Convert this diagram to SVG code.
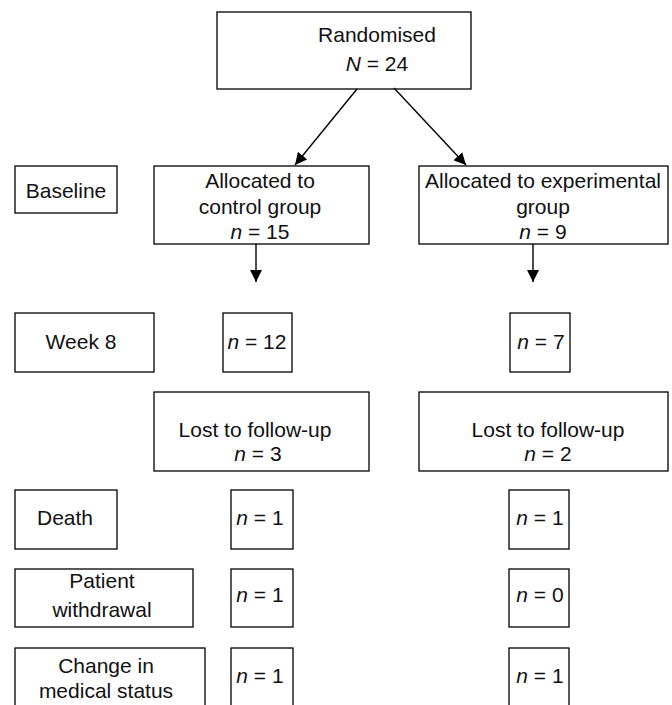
<svg xmlns="http://www.w3.org/2000/svg" width="672" height="705" viewBox="0 0 672 705">
<style>
rect{fill:#fff;stroke:#000;stroke-width:1.3}
text{font-family:"Liberation Sans",Arial,sans-serif;font-size:21px;fill:#111;text-anchor:middle}
.i{font-style:italic}
.c line{stroke:#000;stroke-width:1.4}
</style>
<defs>
<marker id="ah" markerUnits="userSpaceOnUse" markerWidth="12" markerHeight="12" refX="12" refY="6" orient="auto" viewBox="0 0 12 12">
<path d="M0,0 L12,6 L0,12 z" fill="#000"/>
</marker>
</defs>
<rect x="0" y="0" width="672" height="705" style="stroke:none"/>
<g id="randomised"><rect x="217" y="12" width="254" height="77"/><text x="377" y="42">Randomised</text><text x="377" y="71"><tspan class="i">N</tspan> = 24</text></g>
<g id="baseline"><rect x="15" y="166" width="102" height="47"/><text x="66" y="198">Baseline</text></g>
<g id="control"><rect x="154" y="166" width="215" height="78"/><text x="260" y="188">Allocated to</text><text x="260" y="214">control group</text><text x="260" y="239"><tspan class="i">n</tspan> = 15</text></g>
<g id="experimental"><rect x="419" y="166" width="249" height="78"/><text x="543" y="188" textLength="236" lengthAdjust="spacingAndGlyphs">Allocated to experimental</text><text x="543" y="214">group</text><text x="543" y="239"><tspan class="i">n</tspan> = 9</text></g>
<g id="week8"><rect x="15" y="313" width="139" height="59"/><text x="81" y="349">Week 8</text></g>
<g id="week8-control"><rect x="223" y="313" width="69" height="59"/><text x="257" y="349"><tspan class="i">n</tspan> = 12</text></g>
<g id="week8-exp"><rect x="510" y="313" width="60" height="59"/><text x="541" y="349"><tspan class="i">n</tspan> = 7</text></g>
<g id="lost-control"><rect x="154" y="392" width="215" height="79"/><text x="255" y="437">Lost to follow-up</text><text x="258" y="461"><tspan class="i">n</tspan> = 3</text></g>
<g id="lost-exp"><rect x="419" y="392" width="249" height="79"/><text x="548" y="437">Lost to follow-up</text><text x="548" y="461"><tspan class="i">n</tspan> = 2</text></g>
<g id="death"><rect x="15" y="490" width="102" height="59"/><text x="65" y="525">Death</text></g>
<g id="death-control"><rect x="231" y="490" width="62" height="59"/><text x="260" y="525"><tspan class="i">n</tspan> = 1</text></g>
<g id="death-exp"><rect x="509" y="490" width="60" height="59"/><text x="540" y="525"><tspan class="i">n</tspan> = 1</text></g>
<g id="withdrawal"><rect x="15" y="569" width="178" height="58"/><text x="102" y="588">Patient</text><text x="102" y="617">withdrawal</text></g>
<g id="withdrawal-control"><rect x="231" y="569" width="62" height="58"/><text x="260" y="602"><tspan class="i">n</tspan> = 1</text></g>
<g id="withdrawal-exp"><rect x="509" y="569" width="60" height="58"/><text x="540" y="602"><tspan class="i">n</tspan> = 0</text></g>
<g id="medical"><rect x="15" y="648" width="190" height="70"/><text x="106" y="673">Change in</text><text x="106" y="698">medical status</text></g>
<g id="medical-control"><rect x="231" y="648" width="62" height="70"/><text x="260" y="683"><tspan class="i">n</tspan> = 1</text></g>
<g id="medical-exp"><rect x="509" y="648" width="60" height="70"/><text x="540" y="683"><tspan class="i">n</tspan> = 1</text></g>
<g class="c" id="connectors">
<line x1="357" y1="89" x2="295" y2="165" marker-end="url(#ah)"/>
<line x1="394" y1="88" x2="466" y2="165" marker-end="url(#ah)"/>
<line x1="256" y1="244" x2="256" y2="282" marker-end="url(#ah)"/>
<line x1="533" y1="244" x2="533" y2="282" marker-end="url(#ah)"/>
</g>
</svg>
